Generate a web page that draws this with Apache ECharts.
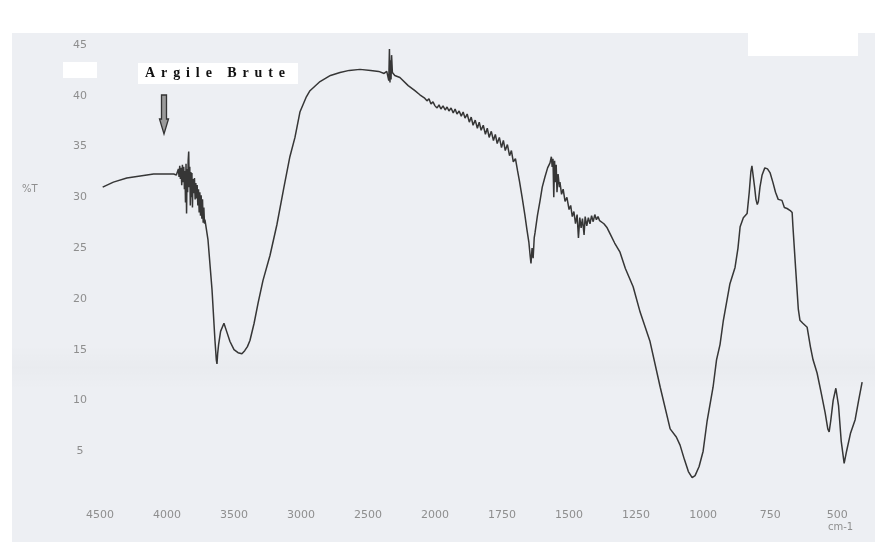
<!DOCTYPE html>
<html>
<head>
<meta charset="utf-8">
<script src="https://cdn.jsdelivr.net/npm/echarts@6/dist/echarts.min.js"></script>
<style>
  html, body { margin: 0; padding: 0; background: #ffffff; }
  #chart { width: 875px; height: 542px; }
</style>
</head>
<body>
<div id="chart"></div>
<script>
// IR spectrum of raw clay, %T against wavenumber (cm-1).
// The wavenumber scale changes at 2000 cm-1, so the trace is split in two panels.

// 4500 - 2000 cm-1 region: [wavenumber, %T]
const spectrumHigh = [
  [4480, 31.0], [4400, 31.5], [4300, 31.9], [4200, 32.1], [4100, 32.3], [4000, 32.3],
  [3950, 32.3], [3930, 32.2], [3920, 32.3], [3915, 32.8], [3910, 32.0], [3905, 33.1],
  [3900, 31.8], [3895, 32.9], [3890, 31.2], [3885, 33.2], [3880, 31.5], [3875, 33.0],
  [3870, 30.8], [3866, 32.6], [3862, 29.5], [3858, 33.3], [3854, 28.4], [3850, 32.8],
  [3846, 30.5], [3842, 33.6], [3838, 34.5], [3834, 31.0], [3830, 33.0], [3826, 29.2],
  [3822, 32.5], [3818, 30.0], [3814, 32.4], [3810, 29.0], [3806, 31.8], [3800, 30.4],
  [3795, 31.9], [3790, 29.8], [3785, 31.4], [3780, 29.9], [3775, 31.2], [3770, 29.2],
  [3765, 30.8], [3760, 28.5], [3755, 30.5], [3750, 28.2], [3745, 30.2], [3740, 27.9],
  [3735, 29.8], [3730, 27.5], [3725, 29.0], [3720, 27.4], [3717, 27.8], [3694, 25.8],
  [3664, 20.9], [3642, 15.9], [3632, 14.0], [3627, 13.6], [3622, 14.6], [3615, 15.5],
  [3600, 16.8], [3575, 17.6], [3567, 17.5], [3555, 16.8], [3530, 15.8], [3500, 15.0],
  [3470, 14.7], [3441, 14.6], [3420, 14.9], [3400, 15.3], [3381, 15.9], [3350, 17.6],
  [3320, 19.6], [3284, 21.8], [3231, 24.3], [3180, 27.3], [3130, 30.8], [3083, 34.0],
  [3045, 35.9], [3008, 38.4], [2960, 39.9], [2933, 40.5], [2858, 41.4], [2780, 42.0],
  [2709, 42.3], [2640, 42.5], [2560, 42.6], [2480, 42.5], [2420, 42.4], [2380, 42.2],
  [2360, 42.4], [2351, 42.3], [2345, 41.5], [2340, 44.6], [2336, 41.3], [2332, 43.5],
  [2328, 41.6], [2324, 44.0], [2318, 42.3], [2310, 42.4], [2300, 42.0], [2262, 41.8],
  [2200, 41.0], [2150, 40.5], [2113, 40.1], [2080, 39.8], [2060, 39.5], [2045, 39.7],
  [2030, 39.2], [2015, 39.4], [2000, 39.0]
];

// 2000 - 400 cm-1 region: [wavenumber, %T]
const spectrumLow = [
  [2000, 39.0], [1992, 38.8], [1985, 39.1], [1978, 38.7], [1970, 39.0], [1962, 38.6],
  [1955, 38.9], [1948, 38.5], [1940, 38.8], [1932, 38.3], [1925, 38.7], [1918, 38.2],
  [1910, 38.5], [1902, 38.0], [1895, 38.4], [1888, 37.8], [1880, 38.2], [1872, 37.4],
  [1865, 37.9], [1858, 37.1], [1850, 37.6], [1842, 36.8], [1835, 37.4], [1828, 36.6],
  [1820, 37.1], [1812, 36.2], [1805, 36.8], [1798, 35.9], [1790, 36.5], [1782, 35.6],
  [1775, 36.2], [1768, 35.3], [1760, 35.9], [1752, 34.9], [1745, 35.6], [1738, 34.6],
  [1730, 35.2], [1722, 34.1], [1715, 34.6], [1708, 33.5], [1700, 33.8], [1692, 32.6],
  [1685, 31.6], [1675, 30.0], [1665, 28.3], [1657, 26.8], [1650, 25.6], [1645, 24.2],
  [1642, 23.5], [1638, 25.0], [1634, 24.0], [1630, 26.0], [1627, 26.5], [1618, 28.2],
  [1608, 29.7], [1600, 31.0], [1590, 32.0], [1580, 32.9], [1571, 33.4], [1566, 34.0],
  [1563, 33.0], [1560, 33.8], [1557, 30.0], [1554, 33.6], [1551, 31.5], [1548, 33.2],
  [1545, 30.5], [1541, 32.3], [1536, 31.0], [1534, 31.5], [1528, 30.3], [1522, 30.8],
  [1515, 29.6], [1508, 30.0], [1500, 28.8], [1494, 29.2], [1488, 28.1], [1482, 28.6],
  [1476, 27.4], [1470, 28.3], [1465, 26.0], [1460, 28.0], [1455, 27.0], [1450, 27.9],
  [1444, 26.3], [1440, 28.1], [1434, 27.2], [1428, 28.0], [1422, 27.4], [1416, 28.2],
  [1410, 27.6], [1404, 28.3], [1398, 27.8], [1392, 28.1], [1386, 27.7], [1380, 27.8],
  [1370, 27.4], [1358, 27.0], [1345, 26.3], [1330, 25.5], [1310, 24.6], [1290, 23.0],
  [1261, 21.2], [1235, 18.7], [1198, 15.8], [1160, 11.3], [1123, 7.2], [1100, 6.4],
  [1086, 5.6], [1070, 4.2], [1055, 3.0], [1041, 2.4], [1030, 2.6], [1015, 3.5],
  [1000, 5.0], [985, 8.0], [963, 11.3], [950, 14.0], [937, 15.5], [925, 17.8],
  [900, 21.5], [881, 23.1], [870, 25.0], [862, 27.1], [850, 28.0], [836, 28.4],
  [828, 30.5], [822, 32.5], [818, 33.1], [815, 33.2], [812, 33.0], [808, 31.0],
  [803, 29.8], [798, 29.3], [794, 29.6], [788, 31.0], [780, 32.2], [770, 32.9],
  [760, 32.8], [750, 32.4], [740, 31.5], [730, 30.5], [720, 29.8], [706, 29.7],
  [697, 29.0], [687, 28.9], [675, 28.7], [668, 28.5], [665, 27.1], [655, 23.0],
  [645, 19.0], [639, 17.9], [628, 17.6], [612, 17.2], [600, 15.3], [590, 14.0],
  [575, 12.7], [560, 10.8], [545, 8.8], [535, 7.2], [530, 6.9], [524, 8.0],
  [515, 10.0], [505, 11.2], [500, 11.3], [495, 9.5], [485, 6.0], [474, 3.8],
  [465, 5.0], [450, 6.8], [433, 8.1], [420, 10.0], [407, 11.8]
];

// Tick labels
const highTicks = [4500, 4000, 3500, 3000, 2500, 2000];
const lowTicks = [1750, 1500, 1250, 1000, 750, 500];
const yTicks = [5, 10, 15, 20, 25, 30, 35, 40, 45];

const sampleName = 'Argile Brute';
const yName = '%T';
const xUnit = 'cm-1';

const labelFont = '"DejaVu Sans", Verdana, sans-serif';
const labelColor = '#8e8e8e';
const traceColor = '#363636';

const chart = echarts.init(document.getElementById('chart'), null, { renderer: 'canvas' });

// Spaced, bold serif sample title, one glyph at a time
const titleFont = 'bold 14px "Liberation Serif", "Times New Roman", serif';
const measureCtx = document.createElement('canvas').getContext('2d');
measureCtx.font = titleFont;
const titleLeft = 145, titleSpan = 140;
const glyphs = sampleName.split('');
const glyphWidths = glyphs.map(c => measureCtx.measureText(c).width);
const gap = (titleSpan - glyphWidths.reduce((a, b) => a + b, 0)) / (glyphs.length - 1);
const titleGlyphs = [];
let gx = titleLeft;
glyphs.forEach((c, i) => {
  titleGlyphs.push({
    type: 'text', x: gx, y: 73,
    style: { text: c, font: titleFont, fill: '#111', textVerticalAlign: 'middle' }
  });
  gx += glyphWidths[i] + gap;
});

const axisLabelStyle = {
  color: labelColor, fontFamily: labelFont, fontSize: 11,
  formatter: v => String(v)
};

const option = {
  animation: false,
  backgroundColor: '#ffffff',
  graphic: [
    // paper
    { type: 'rect', z: -10, silent: true, shape: { x: 12, y: 33, width: 863, height: 509 },
      style: { fill: '#edeff3' } },
    { type: 'rect', z: -9, silent: true, shape: { x: 12, y: 345, width: 863, height: 45 },
      style: { fill: new echarts.graphic.LinearGradient(0, 0, 0, 1, [
        { offset: 0, color: 'rgba(0,0,0,0)' },
        { offset: 0.5, color: 'rgba(0,0,0,0.015)' },
        { offset: 1, color: 'rgba(0,0,0,0)' }]) } },
    { type: 'rect', z: -8, silent: true, shape: { x: 748, y: 20, width: 110, height: 36 },
      style: { fill: '#ffffff' } },
    { type: 'rect', z: -8, silent: true, shape: { x: 63, y: 62, width: 34, height: 16 },
      style: { fill: '#ffffff' } },
    { type: 'rect', z: -8, silent: true, shape: { x: 138, y: 63, width: 160, height: 21 },
      style: { fill: '#ffffff' } },
    { type: 'group', z: 10, children: titleGlyphs },
    // arrow pointing at the sample trace
    { type: 'polygon', z: 10, silent: true,
      shape: { points: [[161.5, 95], [166.5, 95], [166.5, 119], [168.5, 119], [164, 134], [159.5, 119], [161.5, 119]] },
      style: { fill: '#9a9a9a', stroke: '#333', lineWidth: 1.3 } },
    { type: 'text', z: 10, x: 22, y: 189,
      style: { text: yName, font: '10px ' + labelFont, fill: labelColor, textVerticalAlign: 'middle' } },
    { type: 'text', z: 10, x: 828, y: 527,
      style: { text: xUnit, font: '10px ' + labelFont, fill: labelColor, textVerticalAlign: 'middle' } }
  ],
  grid: [
    { left: 100, top: 45, width: 335, height: 457, containLabel: false },
    { left: 435, top: 45, width: 429, height: 457, containLabel: false }
  ],
  xAxis: [
    { type: 'value', gridIndex: 0, min: 2000, max: 4500, inverse: true, interval: 500,
      axisLine: { show: false }, axisTick: { show: false }, splitLine: { show: false },
      axisLabel: Object.assign({ margin: 8, customValues: highTicks }, axisLabelStyle) },
    { type: 'value', gridIndex: 1, min: 400, max: 2000, inverse: true,
      axisLine: { show: false }, axisTick: { show: false }, splitLine: { show: false },
      axisLabel: Object.assign({ margin: 8, customValues: lowTicks }, axisLabelStyle) }
  ],
  yAxis: [
    { type: 'value', gridIndex: 0, min: 0, max: 45, interval: 5,
      axisLine: { show: false }, axisTick: { show: false }, splitLine: { show: false },
      axisLabel: Object.assign({ margin: 20, align: 'center', customValues: yTicks }, axisLabelStyle) },
    { type: 'value', gridIndex: 1, min: 0, max: 45, interval: 5, show: false }
  ],
  series: [
    { type: 'line', xAxisIndex: 0, yAxisIndex: 0, data: spectrumHigh, showSymbol: false,
      lineStyle: { color: traceColor, width: 1.5 }, clip: false },
    { type: 'line', xAxisIndex: 1, yAxisIndex: 1, data: spectrumLow, showSymbol: false,
      lineStyle: { color: traceColor, width: 1.5 }, clip: false }
  ]
};

chart.setOption(option);
</script>
</body>
</html>
